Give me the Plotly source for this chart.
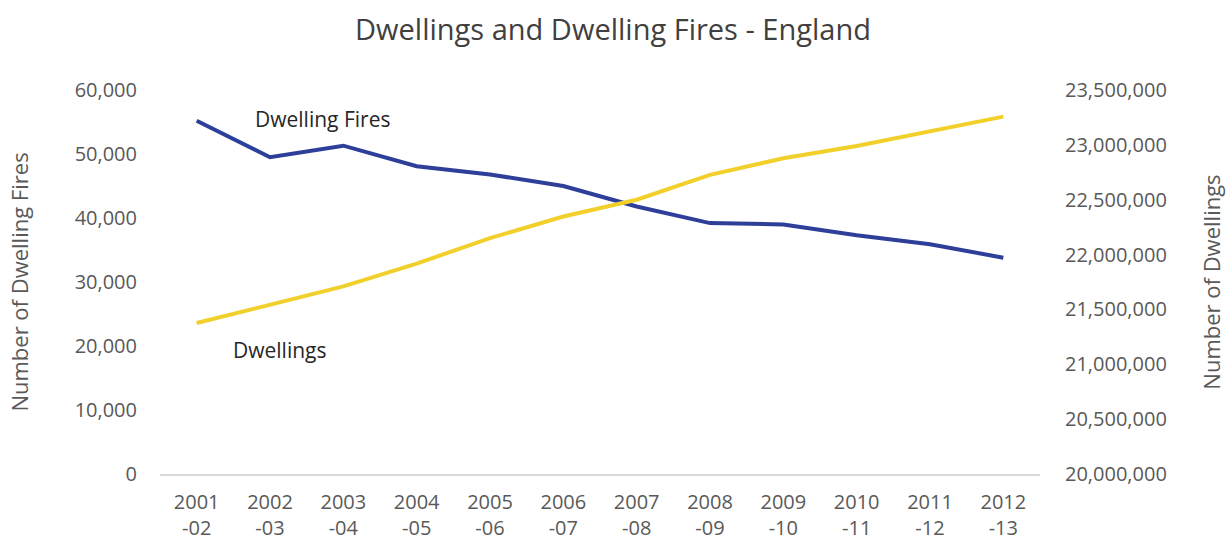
import plotly.graph_objects as go

categories = ["2001<br>-02", "2002<br>-03", "2003<br>-04", "2004<br>-05", "2005<br>-06", "2006<br>-07",
              "2007<br>-08", "2008<br>-09", "2009<br>-10", "2010<br>-11", "2011<br>-12", "2012<br>-13"]
dwelling_fires = [55200, 49500, 51300, 48100, 46800, 45000, 41800, 39200, 39000, 37300, 35900, 33800]
dwellings = [21376000, 21543000, 21710000, 21918000, 22150000, 22347000, 22500000, 22726000,
             22878000, 22990000, 23124000, 23257000]

FONT = "Open Sans"
GREY = "#595959"

fig = go.Figure()
fig.add_trace(go.Scatter(x=categories, y=dwelling_fires, mode="lines", name="Dwelling Fires",
                         line=dict(color="#2E3F99", width=4), yaxis="y"))
fig.add_trace(go.Scatter(x=categories, y=dwellings, mode="lines", name="Dwellings",
                         line=dict(color="#F2D02B", width=4), yaxis="y2"))

fig.update_layout(
    width=1226, height=543,
    margin=dict(l=160, r=186, t=90, b=69),
    paper_bgcolor="white", plot_bgcolor="white",
    showlegend=False,
    font=dict(family=FONT, color=GREY, size=20),
    title=dict(text="Dwellings and Dwelling Fires - England", x=0.5, xanchor="center",
               y=0.945, yanchor="middle", font=dict(family=FONT, size=29, color="#404040")),
    xaxis=dict(type="category", showgrid=False, showline=True, linecolor="#D9D9D9", linewidth=1.5,
               ticks="", ticklabelstandoff=9, tickfont=dict(size=20, color=GREY), range=[-0.5, 11.5],
               automargin=False),
    yaxis=dict(range=[0, 60000], dtick=10000, tickformat=",", showgrid=False, zeroline=False,
               showline=False, ticks="", ticklabelstandoff=22, automargin=False,
               title=dict(text="Number of Dwelling Fires", font=dict(size=22, color=GREY), standoff=39),
               tickfont=dict(size=20, color=GREY)),
    yaxis2=dict(range=[20000000, 23500000], dtick=500000, tickformat=",", overlaying="y", side="right",
                showgrid=False, zeroline=False, showline=False, ticks="", ticklabelstandoff=24,
                automargin=False,
                title=dict(text="Number of Dwellings", font=dict(size=22, color=GREY), standoff=40),
                tickfont=dict(size=20, color=GREY)),
)

fig.add_annotation(x=2, y=55400, xref="x", yref="y", text="Dwelling Fires", showarrow=False,
                   xshift=-21, font=dict(family=FONT, size=21, color="#262626"))
fig.add_annotation(x=1, y=19350, xref="x", yref="y", text="Dwellings", showarrow=False,
                   xshift=10, font=dict(family=FONT, size=21, color="#262626"))

fig.write_html("out.html")
